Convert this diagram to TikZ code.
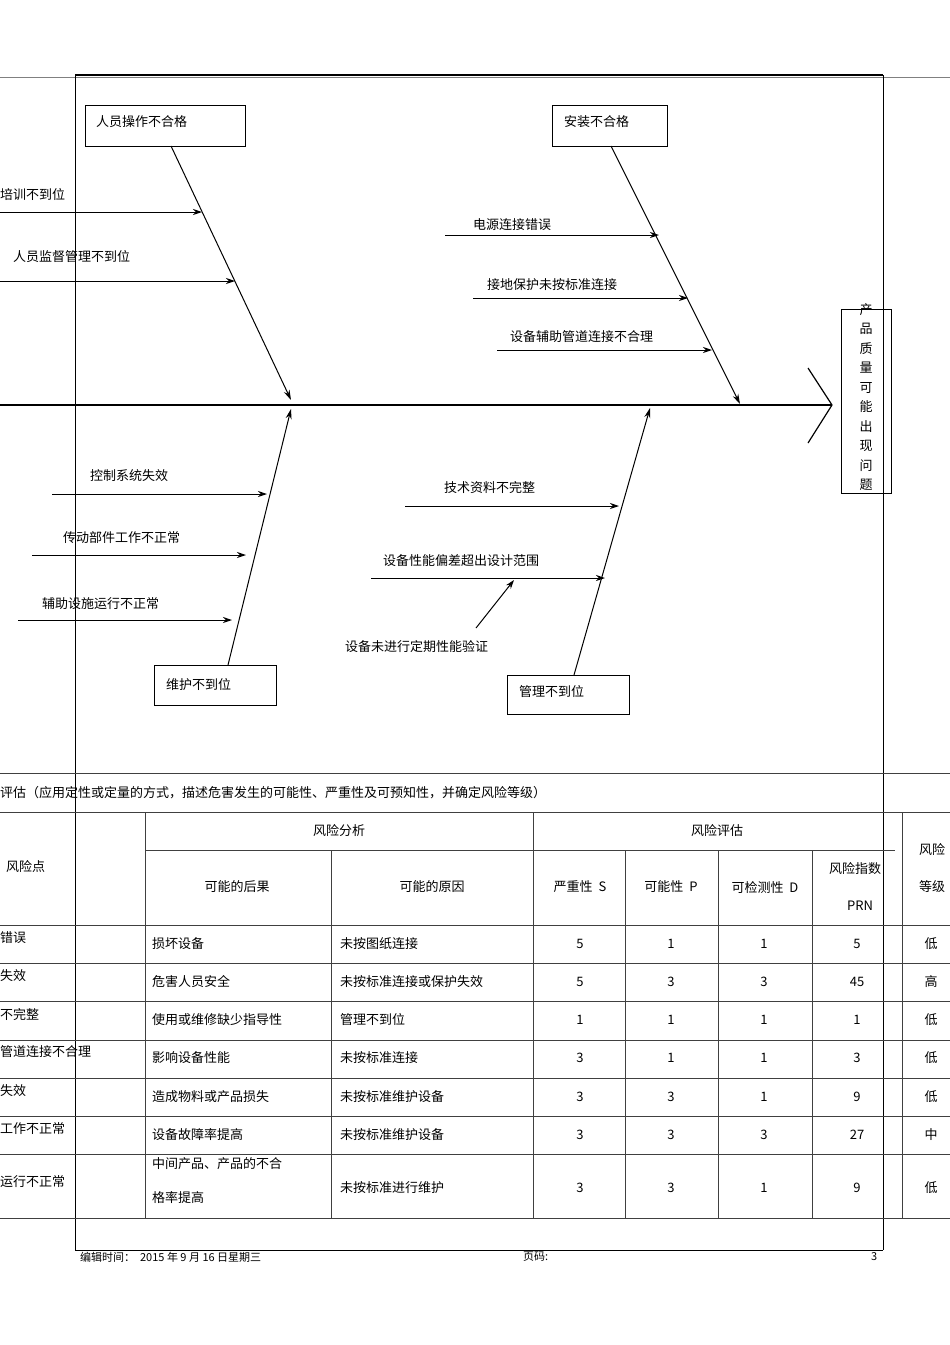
\documentclass[tikz,border=0pt]{standalone}
\usepackage{fontspec}
\setmainfont{Noto Sans CJK SC}
\usetikzlibrary{arrows.meta}
\begin{document}
\begin{tikzpicture}[x=1pt,y=-1pt,
  lbl/.style={anchor=west,inner sep=0,font=\fontsize{13}{15}\selectfont},
  tc/.style={inner sep=0,font=\fontsize{13}{15}\selectfont},
  bx/.style={draw,line width=0.8pt,anchor=north west,inner sep=0},
  arr/.style={line width=1pt,-{Stealth[length=9pt,width=6pt]}},
  bone/.style={line width=1pt,-{Stealth[length=10pt,width=6pt]}},
  gl/.style={line width=0.8pt,draw=black!75}]
\useasboundingbox (0,0) rectangle (950,1345);
% frame
\draw[gl,draw=black!50] (0,77) -- (950,77);
\draw[line width=1.5pt] (75,75) -- (883,75);
\draw[line width=1pt] (75,75) -- (75,1250);
\draw[line width=1pt] (883,75) -- (883,1250);
\draw[line width=0.8pt] (75,1250) -- (883,1250);
% boxes
\node[bx,minimum width=160,minimum height=41] (b1) at (85,105) {};
\node[lbl] at (96,122) {人员操作不合格};
\node[bx,minimum width=115,minimum height=41] (b2) at (552,105) {};
\node[lbl] at (564,122) {安装不合格};
\node[bx,minimum width=122,minimum height=40] (b3) at (154,665) {};
\node[lbl] at (166,685) {维护不到位};
\node[bx,minimum width=122,minimum height=39] (b4) at (507,675) {};
\node[lbl] at (519,692) {管理不到位};
\node[bx,minimum width=50,minimum height=184] (res) at (841,309) {};
\node[tc,align=center,font=\fontsize{13}{19.5}\selectfont] at (866,397) {产\\品\\质\\量\\可\\能\\出\\现\\问\\题};
% spine
\coordinate (s0) at (0,405);
\coordinate (s1) at (832,405);
\draw[line width=1.2pt] (s0) -- (s1);
\draw[line width=1.2pt] (808,368) -- (s1) -- (808,443);
% bones
\coordinate (t1) at (291,400); \coordinate (t2) at (740,404);
\coordinate (t3) at (291,409); \coordinate (t4) at (650,408);
\draw[bone] (171,146) -- (t1);
\draw[bone] (611,146) -- (t2);
\draw[bone] (228,665) -- (t3);
\draw[bone] (574,675) -- (t4);
% sub causes
\node[lbl] at (0,195) {培训不到位};
\draw[arr] (0,212) -- (202,212);
\node[lbl] at (13,257) {人员监督管理不到位};
\draw[arr] (0,281) -- (235,281);
\node[lbl] at (473,225) {电源连接错误};
\draw[arr] (445,235) -- (659,235);
\node[lbl] at (487,285) {接地保护未按标准连接};
\draw[arr] (473,298) -- (688,298);
\node[lbl] at (510,337) {设备辅助管道连接不合理};
\draw[arr] (497,350) -- (712,350);
\node[lbl] at (90,476) {控制系统失效};
\draw[arr] (52,494) -- (267,494);
\node[lbl] at (63,538) {传动部件工作不正常};
\draw[arr] (32,555) -- (246,555);
\node[lbl] at (42,604) {辅助设施运行不正常};
\draw[arr] (18,620) -- (232,620);
\node[lbl] at (444,488) {技术资料不完整};
\draw[arr] (405,506) -- (619,506);
\node[lbl] at (383,561) {设备性能偏差超出设计范围};
\draw[arr] (371,578) -- (605,578);
\node[lbl] at (345,647) {设备未进行定期性能验证};
\draw[arr] (476,628) -- (514,580);
% table
\draw[gl] (0,773) -- (950,773);
\node[lbl] at (0,793) {评估（应用定性或定量的方式，描述危害发生的可能性、严重性及可预知性，并确定风险等级）};
\draw[gl] (0,812) -- (950,812);
\draw[gl] (145,850) -- (895,850);
\foreach \yy in {925,963,1001,1040,1078,1116,1154,1218} \draw[gl] (0,\yy) -- (950,\yy);
\foreach \xx in {145,533,902} \draw[gl] (\xx,812) -- (\xx,1218);
\foreach \xx in {331,625,718,812} \draw[gl] (\xx,850) -- (\xx,1218);
\node[tc] at (339,831) {风险分析};
\node[tc] at (717,831) {风险评估};
\node[lbl] at (6,867) {风险点};
\node[tc] at (237,887) {可能的后果};
\node[tc] at (432,887) {可能的原因};
\node[tc] at (580,887) {严重性\ \ S};
\node[tc] at (671,887) {可能性\ \ P};
\node[tc] at (765,887) {可检测性\ \ D};
\node[tc] at (855,869) {风险指数};
\node[tc] at (860,906) {PRN};
\node[tc] at (932,850) {风险};
\node[tc] at (932,887) {等级};
\foreach \y/\a/\b/\c/\s/\p/\d/\r/\g in {
 944/错误/损坏设备/未按图纸连接/5/1/1/5/低,
 982/失效/危害人员安全/未按标准连接或保护失效/5/3/3/45/高,
 1020/不完整/使用或维修缺少指导性/管理不到位/1/1/1/1/低,
 1058/管道连接不合理/影响设备性能/未按标准连接/3/1/1/3/低,
 1097/失效/造成物料或产品损失/未按标准维护设备/3/3/1/9/低,
 1135/工作不正常/设备故障率提高/未按标准维护设备/3/3/3/27/中}{
 \node[lbl] at (0,\y-6) {\a};
 \node[lbl] at (152,\y) {\b};
 \node[lbl] at (340,\y) {\c};
 \node[tc] at (580,\y) {\s};
 \node[tc] at (671,\y) {\p};
 \node[tc] at (764,\y) {\d};
 \node[tc] at (857,\y) {\r};
 \node[tc] at (931,\y) {\g};
}
\node[lbl] at (0,1182) {运行不正常};
\node[lbl] at (152,1164) {中间产品、产品的不合};
\node[lbl] at (152,1198) {格率提高};
\node[lbl] at (340,1188) {未按标准进行维护};
\node[tc] at (580,1188) {3};
\node[tc] at (671,1188) {3};
\node[tc] at (764,1188) {1};
\node[tc] at (857,1188) {9};
\node[tc] at (931,1188) {低};
% footer
\node[lbl,font=\fontsize{11}{13}\selectfont] at (80,1257) {编辑时间：\ \ 2015 年 9 月 16 日星期三};
\node[lbl,font=\fontsize{11}{13}\selectfont] at (523,1257) {页码:};
\node[lbl,font=\fontsize{11}{13}\selectfont] at (871,1257) {3};
\end{tikzpicture}
\end{document}
